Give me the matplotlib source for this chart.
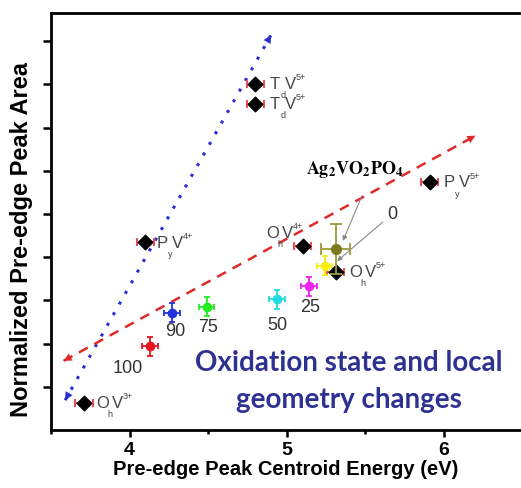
import numpy as np
import matplotlib
matplotlib.use('Agg')
import matplotlib.pyplot as plt

# reference compounds (black diamonds): main letter, subscript, superscript
ref_main = ["O", "P", "T", "T", "P", "O", "O"]
ref_sub = ["h", "y", "d", "d", "y", "h", "h"]
ref_sup = ["3+", "4+", "5+", "5+", "5+", "4+", "5+"]
ref_x = [3.71, 4.10, 4.80, 4.80, 5.91, 5.10, 5.31]
ref_y = [0.63, 4.35, 8.01, 7.55, 5.74, 4.26, 3.66]
ref_xerr = [0.055, 0.055, 0.055, 0.055, 0.055, 0.055, 0.055]

# samples (coloured points)
samp_labels = ["100", "90", "75", "50", "25", "0"]
samp_x = [4.13, 4.27, 4.49, 4.94, 5.14, 5.24]
samp_y = [1.94, 2.71, 2.85, 3.03, 3.33, 3.80]
samp_colors = ["#e8141e", "#2233dd", "#22ee22", "#22dddd", "#ee22ee", "#f5ee10"]

# Ag2VO2PO4
ag_x, ag_y = 5.31, 4.19
ag_xerr, ag_yerr = 0.09, 0.58

# trend arrows
blue_x = [3.59, 4.90]
blue_y = [0.69, 9.14]
red_x = [3.58, 6.20]
red_y = [1.60, 6.81]

plt.rcParams['font.family'] = ['Liberation Sans', 'DejaVu Sans']

fig = plt.figure(figsize=(5.21, 4.89), dpi=100)
ax = fig.add_axes([51/521, 1-431/489, 1-51/521, (431-14)/489])

# trend lines with arrow heads on both ends
def trend(xs, ys, color, ls, lw):
    ax.plot(xs, ys, linestyle=ls, color=color, lw=lw, zorder=1)
    for i, j in [(0, 1), (1, 0)]:
        tip = (xs[j], ys[j])
        back = (xs[j] - 0.04*(xs[j]-xs[i]), ys[j] - 0.04*(ys[j]-ys[i]))
        ax.annotate('', xy=tip, xytext=back,
                    arrowprops=dict(arrowstyle='-|>', color=color, lw=0.1,
                                    mutation_scale=14, shrinkA=0, shrinkB=0))

trend(blue_x, blue_y, '#2b2bd6', (0, (1, 3)), 2.2)
trend(red_x, red_y, '#e02a2a', (0, (4, 3)), 1.8)

# reference points
ax.errorbar(ref_x, ref_y, xerr=ref_xerr, fmt='none', ecolor='#e8505a',
            elinewidth=1.5, capsize=3, capthick=1.5, zorder=3)
ax.scatter(ref_x, ref_y, marker='D', s=55, color='black', zorder=4)

# sample points
for x, y, c in zip(samp_x, samp_y, samp_colors):
    ax.errorbar(x, y, xerr=0.05, yerr=0.22, fmt='o', ms=6, color=c,
                ecolor=c, elinewidth=1.3, capsize=2.5, capthick=1.3, zorder=3)

ax.errorbar(ag_x, ag_y, xerr=ag_xerr, yerr=ag_yerr, fmt='o', ms=7, color='#7b7a1e',
            ecolor='#9c9b3a', elinewidth=1.3, capsize=4, capthick=1.3, zorder=5)

# labels of reference compounds, built from pieces so the scripts stay small
ref_offsets = [(9, 0), (8, 0), (10, 0), (10, 0), (10, 0), (-26, 10), (10, 0)]
for m, sb, sp, x, y, off in zip(ref_main, ref_sub, ref_sup, ref_x, ref_y, ref_offsets):
    dx, dy = off
    ax.annotate(m, (x, y), xytext=(dx, dy), textcoords='offset points',
                fontsize=12, color='#444444', va='center')
    ax.annotate(sb, (x, y), xytext=(dx + 8, dy - 8), textcoords='offset points',
                fontsize=6.5, color='#444444', va='center')
    ax.annotate("V", (x, y), xytext=(dx + 11, dy), textcoords='offset points',
                fontsize=12, color='#444444', va='center')
    ax.annotate(sp, (x, y), xytext=(dx + 19, dy + 5), textcoords='offset points',
                fontsize=6.5, color='#444444', va='center')

# labels of samples
samp_offsets = [(-16, -15), (2, -13), (1, -14), (0, -18), (1, -15)]
for lab, x, y, off in zip(samp_labels[:-1], samp_x[:-1], samp_y[:-1], samp_offsets):
    ax.annotate(lab, (x, y), xytext=off, textcoords='offset points',
                fontsize=13, color='#333333', ha='center', va='center')

ax.text(5.67, 5.02, samp_labels[-1], fontsize=13, color='#333333',
        ha='center', va='center')
ax.annotate('', (5.32, 3.91), xytext=(5.61, 4.81),
            arrowprops=dict(arrowstyle='-|>', color='#888888', lw=0.8,
                            mutation_scale=7, shrinkA=0, shrinkB=0))
ax.text(5.43, 6.06, r"$\mathbf{Ag_2VO_2PO_4}$", fontsize=13, color='black',
        ha='center', va='center', math_fontfamily='stix')
ax.annotate('', (5.357, 4.375), xytext=(5.478, 5.42),
            arrowprops=dict(arrowstyle='-|>', color='#888888', lw=0.8,
                            mutation_scale=7, shrinkA=0, shrinkB=0))

ax.text(5.395, 1.58, "Oxidation state and local", fontsize=20, fontweight='bold',
        family='Lato', color='#2e3192', ha='center', va='center')
ax.text(5.395, 0.71, "geometry changes", fontsize=20, fontweight='bold',
        family='Lato', color='#2e3192', ha='center', va='center')

ax.set_xlim(3.5, 6.49)
ax.set_ylim(0, 9.65)
ax.set_xticks([4, 5, 6])
ax.set_xticks([3.5, 4.5, 5.5], minor=True)
ax.set_yticks(np.arange(1, 10))
ax.set_yticklabels([])
ax.tick_params(axis='x', labelsize=14, width=1.8, length=5, pad=3)
ax.tick_params(axis='x', which='minor', width=1.8, length=3)
ax.tick_params(axis='y', width=1.8, length=6)
for lab in ax.get_xticklabels():
    lab.set_fontweight('bold')
for s in ['left', 'bottom', 'top']:
    ax.spines[s].set_linewidth(2)
ax.spines['right'].set_visible(False)

ax.set_xlabel('Pre-edge Peak Centroid Energy (eV)', fontsize=14.5, fontweight='bold', labelpad=1)
ax.set_ylabel('Normalized Pre-edge Peak Area', fontsize=17, fontweight='bold')
ax.yaxis.set_label_coords(-0.038, 0.46)

fig.savefig('out.png', dpi=100)
